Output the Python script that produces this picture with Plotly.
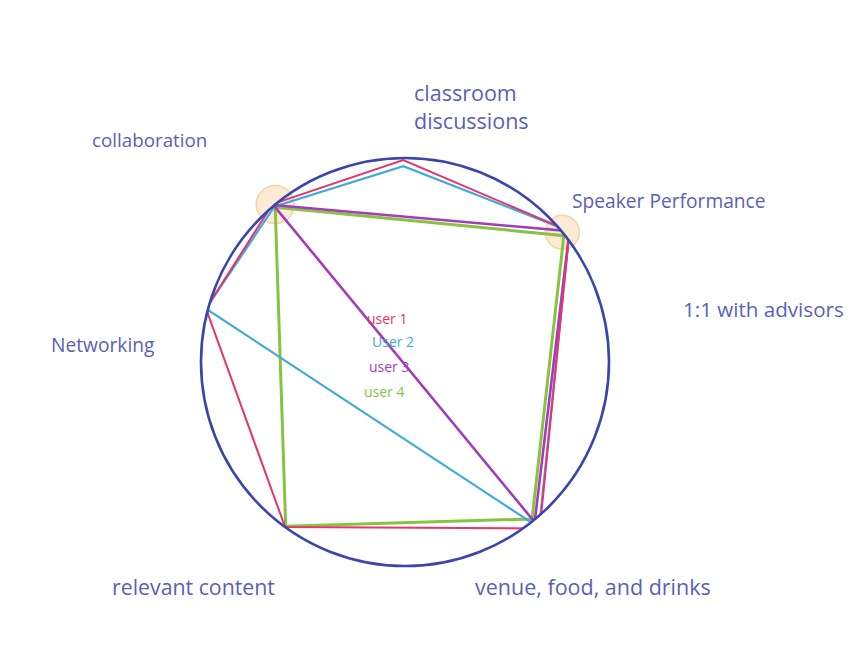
import plotly.graph_objects as go

# ---- data ----
categories = ["collaboration", "classroom discussions", "Speaker Performance",
              "1:1 with advisors", "venue, food, and drinks", "relevant content", "Networking"]
label_text = ["collaboration", "classroom<br>discussions", "Speaker Performance",
              "1:1 with advisors", "venue, food, and drinks", "relevant content", "Networking"]
angles = [130, 90.5, 38.5, -8, -51, -126, 165]

user1 = [10.1, 9.9, 10.3, None, 10.5, 10.0, 10.1]
user2 = [9.95, 9.6, 10.3, None, 10.45, None, 10.1]
user3 = [10.05, None, 10.3, None, 10.1, None, None]
user4 = [9.9, None, 9.95, None, 9.9, 9.95, None]

series_names = ["user 1", "User 2", "user 3", "user 4"]
series_colors = ["#e8336b", "#3ea9de", "#a23cbc", "#86c440"]
series_widths = [2, 2.2, 2.6, 3]

highlight_angles = [129.5, 39.5]
highlight_r = [10, 10]

# ---- figure ----
OFF = 8  # page body margin
W, H = 855 - 2 * OFF, 649 - 2 * OFF
cx, cy, R = 405 - OFF, 362 - OFF, 204

def px(x):
    return (x - OFF) / W

def py(y):
    return 1 - (y - OFF) / H

fig = go.Figure()

fig.add_trace(go.Scatterpolar(
    r=highlight_r, theta=highlight_angles, mode="markers",
    marker=dict(size=[38, 34], color="rgba(248,218,178,0.75)",
                line=dict(color="rgba(240,190,120,0.9)", width=1.5)),
    cliponaxis=False, showlegend=False, hoverinfo="skip"))

data = [user1, user2, user3, user4]
order = [3, 1, 2, 0]
for i in order:
    vals = data[i]
    fig.add_trace(go.Scatterpolar(
        r=vals + [vals[0]], theta=angles + [angles[0]],
        mode="lines", connectgaps=True, cliponaxis=False,
        line=dict(color=series_colors[i], width=series_widths[i]),
        name=series_names[i], showlegend=False))

fig.update_layout(
    width=W, height=H,
    margin=dict(l=0, r=0, t=0, b=0),
    paper_bgcolor="white",
    polar=dict(
        domain=dict(x=[(cx - R) / W, (cx + R) / W], y=[(H - cy - R) / H, (H - cy + R) / H]),
        bgcolor="white",
        radialaxis=dict(visible=False, range=[0, 10]),
        angularaxis=dict(thetaunit="degrees", direction="counterclockwise", rotation=0,
                         showticklabels=False, ticks="", showgrid=False,
                         showline=True, linecolor="#3b45ae", linewidth=2.6),
    ),
    showlegend=False,
)

label_color = "#5a5fb8"
label_pos = [(149, 140, "center", 18.8), (412, 107, "left", 21.5), (669, 200, "center", 19.2),
             (763, 309, "center", 20.6), (593, 586, "center", 21.5), (193, 586, "center", 21.3),
             (103, 344, "center", 19.2)]
for txt, (x, y, al, sz) in zip(label_text, label_pos):
    fig.add_annotation(x=px(x), y=py(y), xref="paper", yref="paper",
                       text=txt, showarrow=False, align="left",
                       xanchor=al, yanchor="middle",
                       font=dict(family="Open Sans", size=sz, color=label_color))

legend_pos = [(387, 318), (393, 341), (389, 366), (384, 391)]
for name, col, (x, y) in zip(series_names, series_colors, legend_pos):
    fig.add_annotation(x=px(x), y=py(y), xref="paper", yref="paper",
                       text=name, showarrow=False, xanchor="center", yanchor="middle",
                       font=dict(family="Open Sans", size=14, color=col))

fig.write_html("out.html")
